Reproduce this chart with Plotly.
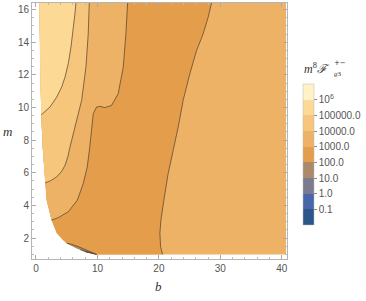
import plotly.graph_objects as go

# contour levels and band colours (lowest band first)
levels = ['0.1', '1.0', '10.0', '100.0', '1000.0', '10000.0', '100000.0', '10<sup>6</sup>']
band_colors = ['#2b5689', '#4767aa', '#7b7a8f', '#ad896b', '#e39d4b',
               '#edb265', '#f6c67c', '#fcd995', '#fff2c6']

# outer edge of the region where the function is defined (top to bottom)
edge_b = [0.54, 0.66, 0.85, 1.09, 1.5, 1.74, 2.55, 3.37, 4.39, 4.99, 6.6, 8.2, 9.87]
edge_m = [16.4, 13.0, 9.55, 7.56, 5.38, 4.32, 3.1, 2.31, 1.88, 1.69, 1.38, 1.14, 1.0]

b_max = 40.7
m_min = 1.0
m_max = 16.4

# contour 10^6 (left, starts on the edge)
c6_b = [0.85, 1.5, 2.28, 3.37, 4.18, 4.72, 5.25, 5.69, 6.06, 6.34, 6.5]
c6_m = [9.55, 9.75, 10.03, 10.64, 11.25, 11.86, 12.68, 13.70, 14.72, 15.74, 16.4]

# contour 10^5
c5_b = [1.5, 2.4, 3.37, 4.2, 4.72, 5.2, 5.45, 6.34, 7.43, 8.13, 8.5, 8.67]
c5_m = [5.38, 5.52, 5.75, 6.1, 6.46, 7.0, 7.45, 8.80, 10.44, 12.47, 14.51, 16.4]

# contour 10^4 (with the little kink near m = 10)
c4_b = [2.55, 3.6, 5.25, 6.72, 7.69, 8.34, 8.7, 8.9, 9.06, 9.32, 9.87, 10.41, 11.22,
        12.31, 13.38, 14.2, 14.63, 14.91]
c4_m = [3.1, 3.25, 3.61, 4.32, 5.34, 6.36, 7.4, 8.2, 8.80, 9.62, 10.03, 10.07, 9.99,
        10.13, 10.85, 12.47, 14.51, 16.4]

# contour 1000 (right, from the bottom edge to the top)
c3_b = [20.6, 20.28, 20.16, 20.33, 20.81, 21.51, 22.33, 23.14, 23.95, 25.04, 26.13,
        27.2, 28.02, 28.57]
c3_m = [1.0, 1.47, 2.29, 3.10, 4.32, 5.96, 7.38, 8.80, 10.44, 12.07, 13.49, 14.51,
        15.53, 16.4]

# small contours near the lower edge: 100, 10, 1
c2_b = [4.99, 5.8, 7.0, 8.3, 9.3, 9.87]
c2_m = [1.69, 1.62, 1.46, 1.24, 1.07, 1.0]
c1_b = [7.2, 8.0, 9.0, 9.87]
c1_m = [1.29, 1.22, 1.09, 1.0]
c0_b = [8.0, 8.8, 9.6]
c0_m = [1.17, 1.11, 1.025]


def left_of(lb, lm):
    # region between the edge and a contour that starts on the edge and ends at the top
    pb = list(lb) + [b for b, m in zip(edge_b, edge_m) if m > lm[0]]
    pm = list(lm) + [m for m in edge_m if m > lm[0]]
    return pb, pm


def sliver(lb, lm):
    # region between a short contour and the lower edge
    inner = [(b, m) for b, m in zip(edge_b, edge_m) if lb[0] < b < lb[-1]]
    inner = inner[::-1]
    pb = list(lb) + [p[0] for p in inner]
    pm = list(lm) + [p[1] for p in inner]
    return pb, pm


fig = go.Figure()


def add_fill(pb, pm, color):
    fig.add_trace(go.Scatter(x=pb, y=pm, mode='lines', fill='toself', fillcolor=color,
                             line=dict(width=0, color=color), hoverinfo='skip',
                             showlegend=False))


# whole domain (1000 - 10^4)
add_fill(edge_b + [b_max, b_max], edge_m + [m_min, m_max], band_colors[5])
# left of the 1000 contour (100 - 1000)
add_fill(c3_b + edge_b, c3_m + edge_m, band_colors[4])
add_fill(*left_of(c4_b, c4_m), band_colors[5])
add_fill(*left_of(c5_b, c5_m), band_colors[6])
add_fill(*left_of(c6_b, c6_m), band_colors[7])
add_fill(*sliver(c2_b, c2_m), band_colors[3])
add_fill(*sliver(c1_b, c1_m), band_colors[2])
add_fill(c0_b, c0_m, band_colors[1])

for lb, lm in [(c6_b, c6_m), (c5_b, c5_m), (c4_b, c4_m), (c3_b, c3_m),
               (c2_b, c2_m), (c1_b, c1_m), (c0_b, c0_m)]:
    fig.add_trace(go.Scatter(x=lb, y=lm, mode='lines', hoverinfo='skip', showlegend=False,
                             line=dict(color='rgba(85,65,45,0.8)', width=0.9)))

# colour bar legend through a dummy trace
n = len(band_colors)
scale = []
for i, c in enumerate(band_colors):
    scale.append([i / n, c])
    scale.append([(i + 1) / n, c])
fig.add_trace(go.Scatter(
    x=[None], y=[None], mode='markers', showlegend=False, hoverinfo='skip',
    marker=dict(color=[0], cmin=0, cmax=n, colorscale=scale, showscale=True,
                colorbar=dict(x=1.063, xanchor='left', y=0.408, yanchor='middle',
                              len=141, lenmode='pixels', thickness=11,
                              xpad=0, ypad=0, outlinewidth=0.5, outlinecolor='#bbbbbb',
                              tickvals=list(range(1, n)), ticktext=levels,
                              ticks='outside', ticklen=3, tickcolor='#888888',
                              tickfont=dict(size=10, color='#555555',
                                            family='Liberation Sans')))))

axis_style = dict(showline=True, linecolor='#b5b5b5', linewidth=1, mirror='ticks',
                  ticks='inside', ticklen=4, tickcolor='#aaaaaa', showgrid=False,
                  zeroline=False, automargin=False,
                  tickfont=dict(size=10, color='#555555', family='Liberation Sans'))

fig.update_layout(
    width=366, height=301,
    margin=dict(l=32, r=79, t=3, b=42, autoexpand=False),
    paper_bgcolor='white', plot_bgcolor='white',
    xaxis=dict(range=[-0.65, 40.85], dtick=10, tick0=0,
               minor=dict(dtick=2, ticks='inside', ticklen=2, tickcolor='#bbbbbb'),
               **axis_style),
    yaxis=dict(range=[0.72, 16.4], dtick=2, tick0=0,
               minor=dict(dtick=0.5, ticks='inside', ticklen=2, tickcolor='#bbbbbb'),
               **axis_style),
)

serif = 'Liberation Serif'
ink = '#333333'
fig.add_annotation(text='<i>m</i>', xref='paper', yref='paper', x=-0.096, y=0.5,
                   xanchor='center', yanchor='middle', showarrow=False,
                   font=dict(family=serif, size=13, color=ink))
fig.add_annotation(text='<i>b</i>', xref='paper', yref='paper', x=0.498, y=-0.109,
                   xanchor='center', yanchor='middle', showarrow=False,
                   font=dict(family=serif, size=13, color=ink))
fig.add_annotation(text='<i>m</i><sup>8</sup><i>ℱ</i>', xref='paper', yref='paper',
                   x=1.178, y=0.746, xanchor='right', yanchor='middle', showarrow=False,
                   font=dict(family=serif, size=12, color=ink))
fig.add_annotation(text='+−', xref='paper', yref='paper', x=1.176, y=0.766,
                   xanchor='left', yanchor='middle', showarrow=False,
                   font=dict(family='DejaVu Sans', size=7, color=ink))
fig.add_annotation(text='<i>g</i>3', xref='paper', yref='paper', x=1.178, y=0.722,
                   xanchor='left', yanchor='middle', showarrow=False,
                   font=dict(family=serif, size=7, color=ink))

# the page body has a default 8px margin; drop it so the figure sits at the corner
fig.write_html('out.html', config={'displayModeBar': False},
               post_script="document.body.style.margin='0';")
